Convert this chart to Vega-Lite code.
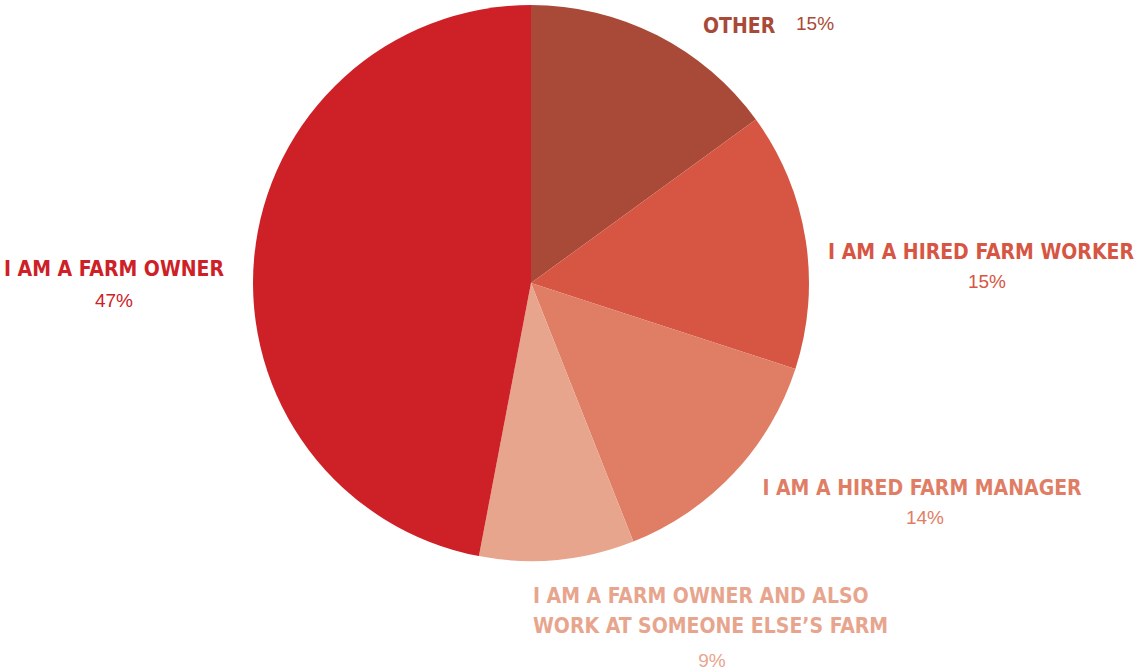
{
  "$schema": "https://vega.github.io/schema/vega-lite/v6.json",
  "width": 1062,
  "height": 556,
  "autosize": {"type": "none"},
  "padding": {"left": 0, "top": 5, "right": 76, "bottom": 110},
  "background": "white",
  "config": {"view": {"stroke": null}},
  "data": {
    "values": [
      {"category": "Other", "label": "OTHER", "pct": 15, "pctLabel": "15%", "ord": 1},
      {"category": "Hired worker", "label": "I AM A HIRED FARM WORKER", "pct": 15, "pctLabel": "15%", "ord": 2},
      {"category": "Hired manager", "label": "I AM A HIRED FARM MANAGER", "pct": 14, "pctLabel": "14%", "ord": 3},
      {"category": "Owner also worker", "label": "I AM A FARM OWNER AND ALSO\nWORK AT SOMEONE ELSE’S FARM", "pct": 9, "pctLabel": "9%", "ord": 4},
      {"category": "Owner", "label": "I AM A FARM OWNER", "pct": 47, "pctLabel": "47%", "ord": 5}
    ]
  },
  "layer": [
    {
      "mark": {"type": "arc"},
      "encoding": {
        "theta": {"field": "pct", "type": "quantitative", "stack": true},
        "order": {"field": "ord", "type": "quantitative"},
        "color": {
          "field": "category",
          "type": "nominal",
          "scale": {
            "domain": ["Other", "Hired worker", "Hired manager", "Owner also worker", "Owner"],
            "range": ["#A84A37", "#D65643", "#E07E65", "#E8A58E", "#CE2027"]
          },
          "legend": null
        }
      }
    },
    {
      "transform": [{"filter": "datum.category === 'Other'"}],
      "mark": {"type": "text", "font": "DejaVu Sans Condensed, sans-serif", "fontWeight": "bold", "fontSize": 21, "align": "left", "baseline": "alphabetic", "dx": 172, "dy": -250, "color": "#A84A37"},
      "encoding": {"text": {"field": "label"}}
    },
    {
      "transform": [{"filter": "datum.category === 'Other'"}],
      "mark": {"type": "text", "font": "Liberation Sans, Arial, sans-serif", "fontSize": 19, "align": "left", "baseline": "alphabetic", "dx": 265, "dy": -253, "color": "#A84A37"},
      "encoding": {"text": {"field": "pctLabel"}}
    },
    {
      "transform": [{"filter": "datum.category === 'Hired worker'"}],
      "mark": {"type": "text", "font": "DejaVu Sans Condensed, sans-serif", "fontWeight": "bold", "fontSize": 21, "align": "right", "baseline": "alphabetic", "dx": 603, "dy": -24, "color": "#D65643"},
      "encoding": {"text": {"field": "label"}}
    },
    {
      "transform": [{"filter": "datum.category === 'Hired worker'"}],
      "mark": {"type": "text", "font": "Liberation Sans, Arial, sans-serif", "fontSize": 19, "align": "center", "baseline": "alphabetic", "dx": 456, "dy": 5, "color": "#D65643"},
      "encoding": {"text": {"field": "pctLabel"}}
    },
    {
      "transform": [{"filter": "datum.category === 'Hired manager'"}],
      "mark": {"type": "text", "font": "DejaVu Sans Condensed, sans-serif", "fontWeight": "bold", "fontSize": 21, "align": "center", "baseline": "alphabetic", "dx": 391, "dy": 212, "color": "#E07E65"},
      "encoding": {"text": {"field": "label"}}
    },
    {
      "transform": [{"filter": "datum.category === 'Hired manager'"}],
      "mark": {"type": "text", "font": "Liberation Sans, Arial, sans-serif", "fontSize": 19, "align": "center", "baseline": "alphabetic", "dx": 394, "dy": 241, "color": "#E07E65"},
      "encoding": {"text": {"field": "pctLabel"}}
    },
    {
      "transform": [{"filter": "datum.category === 'Owner also worker'"}],
      "mark": {"type": "text", "font": "DejaVu Sans Condensed, sans-serif", "fontWeight": "bold", "fontSize": 21, "align": "left", "baseline": "alphabetic", "lineBreak": "\n", "lineHeight": 30, "dx": 2, "dy": 320, "color": "#E8A58E"},
      "encoding": {"text": {"field": "label"}}
    },
    {
      "transform": [{"filter": "datum.category === 'Owner also worker'"}],
      "mark": {"type": "text", "font": "Liberation Sans, Arial, sans-serif", "fontSize": 19, "align": "center", "baseline": "alphabetic", "dx": 181, "dy": 384, "color": "#E8A58E"},
      "encoding": {"text": {"field": "pctLabel"}}
    },
    {
      "transform": [{"filter": "datum.category === 'Owner'"}],
      "mark": {"type": "text", "font": "DejaVu Sans Condensed, sans-serif", "fontWeight": "bold", "fontSize": 21, "align": "center", "baseline": "alphabetic", "dx": -417, "dy": -7, "color": "#CE2027"},
      "encoding": {"text": {"field": "label"}}
    },
    {
      "transform": [{"filter": "datum.category === 'Owner'"}],
      "mark": {"type": "text", "font": "Liberation Sans, Arial, sans-serif", "fontSize": 19, "align": "center", "baseline": "alphabetic", "dx": -417, "dy": 24, "color": "#CE2027"},
      "encoding": {"text": {"field": "pctLabel"}}
    }
  ]
}
